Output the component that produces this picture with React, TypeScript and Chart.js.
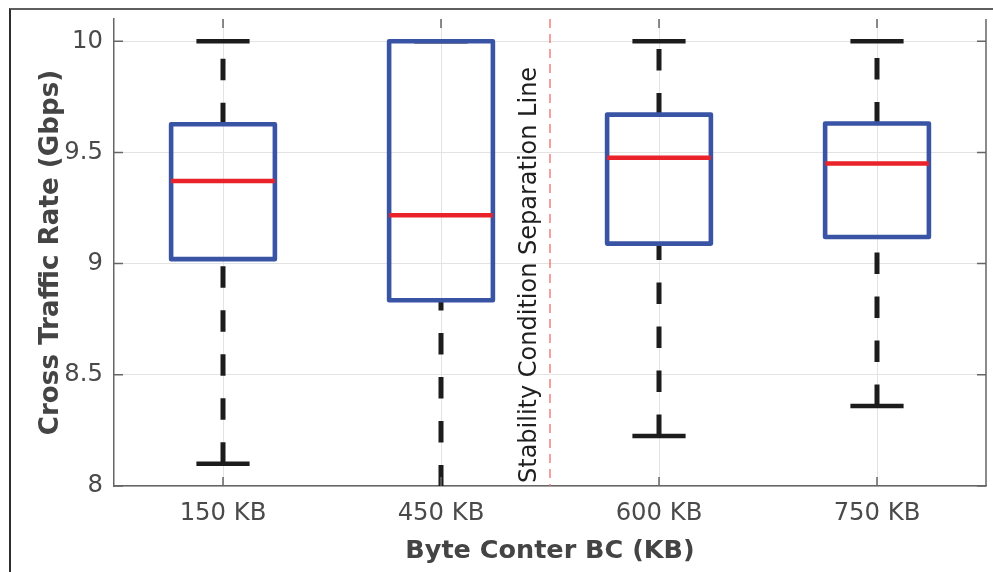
import React, { useEffect, useRef } from 'react';
import { Chart, registerables } from 'chart.js';

Chart.register(...registerables);

// Box-plot statistics per byte-counter setting (Gbps)
const categories = ['150 KB', '450 KB', '600 KB', '750 KB'];
const positions = [1, 2, 3, 4];
const whiskerLow = [8.1, 7.8, 8.225, 8.36];
const q1 = [9.02, 8.835, 9.09, 9.12];
const medians = [9.372, 9.218, 9.476, 9.45];
const q3 = [9.627, 10.0, 9.67, 9.63];
const whiskerHigh = [10, 10, 10, 10];

const yTicks = [8, 8.5, 9, 9.5, 10];
const yMin = 8;
const yMax = 10.1;

const separationAt = 2.5;
const separationLabel = 'Stability Condition Separation Line';

const BOX_HALF = 0.238; // in category units
const CAP_HALF = 0.122;
const TICK_LEN = 9;
const AXIS_COLOR = '#666666';
const LABEL_COLOR = '#4a4a4a';

const boxPlotPlugin = {
  id: 'boxPlot',
  afterDraw(chart: any) {
    const { ctx, chartArea: a } = chart;
    const x = chart.scales.x;
    const y = chart.scales.y;
    const unit = x.getPixelForValue(1) - x.getPixelForValue(0);

    ctx.save();
    ctx.beginPath();
    ctx.rect(a.left, a.top, a.right - a.left, a.bottom - a.top);
    ctx.clip();

    // dashed separation line
    const sx = x.getPixelForValue(separationAt);
    ctx.strokeStyle = '#f36a6a';
    ctx.lineWidth = 1.3;
    ctx.setLineDash([9, 6]);
    ctx.beginPath();
    ctx.moveTo(sx, a.top);
    ctx.lineTo(sx, a.bottom);
    ctx.stroke();

    // whiskers
    positions.forEach((p, i) => {
      const cx = x.getPixelForValue(p);
      ctx.strokeStyle = '#1c1c1c';
      ctx.lineWidth = 5;
      ctx.lineCap = 'butt';
      ctx.setLineDash([21.5, 22.5]);
      const segs: [number, number][] = [
        [whiskerLow[i], q1[i]],
        [q3[i], whiskerHigh[i]],
      ];
      segs.forEach(([lo, hi]) => {
        if (hi <= lo) return;
        ctx.beginPath();
        ctx.moveTo(cx, y.getPixelForValue(lo));
        ctx.lineTo(cx, y.getPixelForValue(hi));
        ctx.stroke();
      });
      ctx.setLineDash([]);
      ctx.lineWidth = 4.6;
      [whiskerLow[i], whiskerHigh[i]].forEach((v) => {
        const py = y.getPixelForValue(v);
        ctx.beginPath();
        ctx.moveTo(cx - CAP_HALF * unit, py);
        ctx.lineTo(cx + CAP_HALF * unit, py);
        ctx.stroke();
      });
    });

    // boxes
    positions.forEach((p, i) => {
      const cx = x.getPixelForValue(p);
      const yTop = y.getPixelForValue(q3[i]);
      const yBot = y.getPixelForValue(q1[i]);
      ctx.strokeStyle = '#3a54a5';
      ctx.lineWidth = 4.6;
      ctx.lineJoin = 'round';
      ctx.setLineDash([]);
      ctx.strokeRect(cx - BOX_HALF * unit, yTop, 2 * BOX_HALF * unit, yBot - yTop);
    });

    // medians
    positions.forEach((p, i) => {
      const cx = x.getPixelForValue(p);
      const py = y.getPixelForValue(medians[i]);
      ctx.strokeStyle = '#ea2229';
      ctx.lineWidth = 4.5;
      ctx.lineCap = 'butt';
      ctx.beginPath();
      ctx.moveTo(cx - BOX_HALF * unit, py);
      ctx.lineTo(cx + BOX_HALF * unit, py);
      ctx.stroke();
    });
    ctx.restore();

    // rotated label beside the separation line
    ctx.save();
    ctx.translate(sx - 14, a.bottom - 3);
    ctx.rotate(-Math.PI / 2);
    ctx.font = '24px "DejaVu Sans"';
    ctx.fillStyle = '#1f1f1f';
    ctx.textAlign = 'left';
    ctx.textBaseline = 'alphabetic';
    ctx.fillText(separationLabel, 0, 0);
    ctx.restore();

    // right-hand axis line and inward tick marks
    ctx.save();
    ctx.strokeStyle = AXIS_COLOR;
    ctx.lineWidth = 1.5;
    ctx.beginPath();
    ctx.moveTo(a.right, a.top);
    ctx.lineTo(a.right, a.bottom);
    yTicks.forEach((v) => {
      const py = y.getPixelForValue(v);
      ctx.moveTo(a.left, py);
      ctx.lineTo(a.left + TICK_LEN, py);
      ctx.moveTo(a.right, py);
      ctx.lineTo(a.right - TICK_LEN, py);
    });
    positions.forEach((p) => {
      const px = x.getPixelForValue(p);
      ctx.moveTo(px, a.bottom);
      ctx.lineTo(px, a.bottom - TICK_LEN);
      ctx.moveTo(px, a.top);
      ctx.lineTo(px, a.top + TICK_LEN);
    });
    ctx.stroke();
    ctx.restore();
  },
};

export default function App() {
  const canvasRef = useRef<HTMLCanvasElement | null>(null);

  useEffect(() => {
    const canvas = canvasRef.current;
    if (!canvas) return;
    const tickFont = { family: '"DejaVu Sans"', size: 24.3 };
    const titleFont = { family: '"DejaVu Sans"', size: 25.5, weight: 'bold' as const };
    const yTitleFont = { family: '"DejaVu Sans"', size: 26.2, weight: 'bold' as const };
    const chart = new Chart(canvas, {
      type: 'scatter',
      data: { datasets: [] },
      plugins: [boxPlotPlugin],
      options: {
        responsive: false,
        animation: false,
        devicePixelRatio: 1,
        layout: { padding: { top: 19, right: 7, left: 0, bottom: 0 } },
        plugins: { legend: { display: false }, tooltip: { enabled: false } },
        scales: {
          x: {
            type: 'linear',
            min: 0.5,
            max: 4.5,
            offset: false,
            afterBuildTicks: (s: any) => {
              s.ticks = positions.map((v) => ({ value: v }));
            },
            afterFit: (s: any) => {
              s.height = 86;
              s.paddingLeft = 0;
              s.paddingRight = 0;
            },
            ticks: {
              autoSkip: false,
              maxRotation: 0,
              padding: 13,
              color: LABEL_COLOR,
              font: tickFont,
              callback: (v: any) => categories[positions.indexOf(Number(v))],
            },
            grid: { color: '#e3e3e3', lineWidth: 1, drawTicks: false },
            border: { display: true, color: AXIS_COLOR, width: 1.5 },
            title: {
              display: true,
              text: 'Byte Conter BC (KB)',
              color: '#444444',
              font: titleFont,
              padding: { top: 5, bottom: 5 },
            },
          },
          y: {
            type: 'linear',
            min: yMin,
            max: yMax,
            afterBuildTicks: (s: any) => {
              s.ticks = yTicks.map((v) => ({ value: v }));
            },
            afterFit: (s: any) => {
              s.width = 114;
              s.paddingTop = 0;
              s.paddingBottom = 0;
            },
            ticks: {
              padding: 11,
              color: LABEL_COLOR,
              font: tickFont,
              callback: (v: any) => String(v),
            },
            grid: { color: '#e3e3e3', lineWidth: 1, drawTicks: false },
            border: { display: true, color: AXIS_COLOR, width: 1.5 },
            title: {
              display: true,
              text: 'Cross Traffic Rate (Gbps)',
              color: '#444444',
              font: yTitleFont,
              padding: { top: 35, bottom: 35 },
            },
          },
        },
      },
    });
    return () => chart.destroy();
  }, []);

  return (
    <div
      style={{
        position: 'fixed',
        left: 0,
        top: 0,
        width: 993,
        height: 572,
        background: '#ffffff',
        overflow: 'hidden',
      }}
    >
      <canvas
        ref={canvasRef}
        width={993}
        height={572}
        style={{ position: 'absolute', left: 0, top: 0, width: 993, height: 572 }}
      />
      <div
        style={{
          position: 'absolute',
          left: 9,
          top: 8,
          width: 984,
          height: 564,
          boxSizing: 'border-box',
          borderTop: '2px solid #5e5e5e',
          borderLeft: '2px solid #2e2e2e',
          pointerEvents: 'none',
        }}
      />
    </div>
  );
}
